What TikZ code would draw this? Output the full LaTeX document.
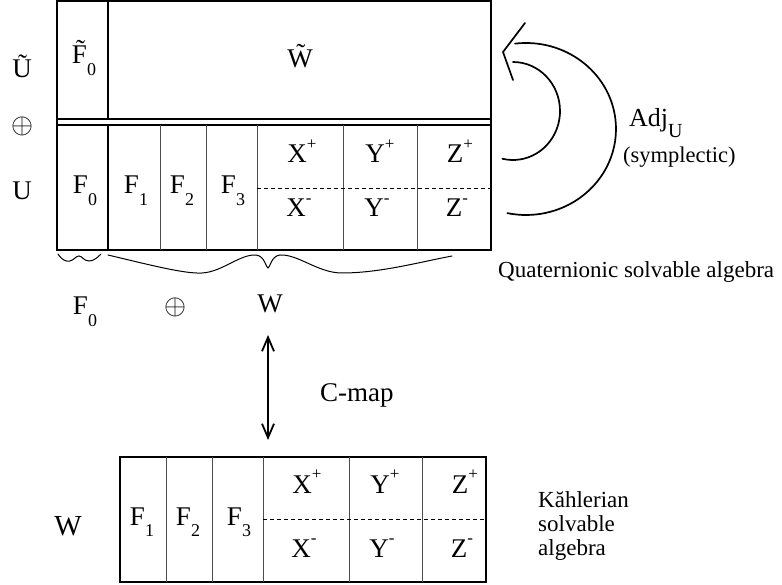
\documentclass[tikz,border=0pt]{standalone}
\usepackage{graphicx}
\usepackage{fontspec}
\setmainfont{Liberation Serif}
\usetikzlibrary{arrows.meta}
\newcommand\labsub[1]{\raisebox{-0.42em}{\fontsize{18}{18}\selectfont #1}}
\newcommand\labsup[1]{\raisebox{0.5em}{\fontsize{17}{17}\selectfont #1}}
\newcommand\bigsum{\resizebox{22pt}{!}{$\oplus$}}
\tikzset{
  boxframe/.style={draw=black, line width=2pt},
  thickdiv/.style={draw=black, line width=2pt},
  thindiv/.style={draw=black!70, line width=1pt},
  sepline/.style={draw=black, line width=1.3pt},
  halfline/.style={draw=black, line width=0.9pt, dash pattern=on 4pt off 3pt},
  bracestroke/.style={draw=black, line width=1pt, line cap=round},
  arcstroke/.style={draw=black, line width=1.7pt, line cap=round, line join=miter},
  maparrow/.style={draw=black, line width=1.8pt,
    {Straight Barb[length=14pt,width=12pt]}-{Straight Barb[length=14pt,width=12pt]}},
  lab/.style={inner sep=0pt, font=\fontsize{27}{32}\selectfont},
  notelab/.style={inner sep=0pt, font=\fontsize{23}{24}\selectfont},
}

\begin{document}
\begin{tikzpicture}[x=1pt,y=-1pt]
  \useasboundingbox (0,0) rectangle (782,585);

  % quaternionic algebra
  \draw[boxframe] (57,1.5) rectangle (491,250);
  \draw[sepline] (57,119) -- (491,119);
  \draw[sepline] (57,125) -- (491,125);
  \draw[thickdiv] (108,1.5) -- (108,119);
  \draw[thickdiv] (108,125) -- (108,250);
  \foreach \xx in {160,206,257,343,417}
    \draw[thindiv] (\xx,125) -- (\xx,250);
  \draw[halfline] (257,188) -- (491,188);

  \node[lab, anchor=base] (Utl) at (22,78) {\~{U}};
  \node[lab] (sumL) at (23,126) {\bigsum};
  \node[lab, anchor=base] (Ul) at (22,200) {U};

  \node[lab, anchor=base] (Ft0) at (84,64) {\~{F}\labsub{0}};
  \node[lab, anchor=base] (Wt) at (300,68) {\~{W}};
  \node[lab, anchor=base] (F0) at (85,194) {F\labsub{0}};
  \node[lab, anchor=base] (F1) at (136,194) {F\labsub{1}};
  \node[lab, anchor=base] (F2) at (182,194) {F\labsub{2}};
  \node[lab, anchor=base] (F3) at (233,194) {F\labsub{3}};
  \node[lab, anchor=base] (Xp) at (302,163) {X\labsup{+}};
  \node[lab, anchor=base] (Yp) at (380,163) {Y\labsup{+}};
  \node[lab, anchor=base] (Zp) at (460,163) {Z\labsup{+}};
  \node[lab, anchor=base] (Xm) at (299,217) {X\labsup{-}};
  \node[lab, anchor=base] (Ym) at (377,217) {Y\labsup{-}};
  \node[lab, anchor=base] (Zm) at (457,217) {Z\labsup{-}};

  % adjoint action arcs
  \draw[arcstroke] (526,129) ++(-97:90 and 86) arc[start angle=-97, end angle=102, x radius=90, y radius=86];
  \draw[arcstroke] (513,111) ++(-90:47 and 49) arc[start angle=-90, end angle=103, x radius=47, y radius=49];
  \draw[arcstroke] (525,23) -- (503,52) -- (513,80);
  \node[lab, anchor=base west, font=\fontsize{26}{30}\selectfont] (adj) at (629,127)
    {Adj\raisebox{-0.42em}{\fontsize{20}{20}\selectfont U}};
  \node[notelab, anchor=base west, font=\fontsize{22.5}{24}\selectfont] (sympl) at (623,163) {(symplectic)};
  \node[notelab, anchor=base west] (quat) at (498,278) {Quaternionic solvable algebra};

  % braces under the box
  \draw[bracestroke] (58,254) .. controls (62,260) and (66,262) .. (70,261)
    .. controls (74,260) and (76,256) .. (79,256)
    .. controls (82,256) and (84,261) .. (89,261)
    .. controls (94,261) and (98,257) .. (101,254);
  \draw[bracestroke] (108,255) .. controls (150,265) and (185,274) .. (202,273)
    .. controls (222,272) and (240,254) .. (256,255)
    .. controls (265,256) and (266,268) .. (268,268)
    .. controls (270,268) and (271,256) .. (280,255)
    .. controls (298,254) and (318,273) .. (342,273)
    .. controls (380,273) and (420,262) .. (452,256);

  \node[lab, anchor=base] (F0b) at (85,315) {F\labsub{0}};
  \node[lab] (sumB) at (175,307) {\bigsum};
  \node[lab, anchor=base] (Wb) at (270,313) {W};

  % c-map
  \coordinate (cTop) at (268,335);
  \coordinate (cBot) at (268,440);
  \draw[maparrow] (cTop) -- (cBot);
  \node[lab, anchor=base west] (cmap) at (320,401) {C-map};

  % kaehlerian algebra
  \draw[boxframe] (120,457) rectangle (486,582);
  \foreach \xx in {166,212,263,349,422}
    \draw[thindiv] (\xx,457) -- (\xx,582);
  \draw[halfline] (263,519) -- (486,519);

  \node[lab, anchor=base, font=\fontsize{29}{32}\selectfont] (Wk) at (68,535) {W};
  \node[lab, anchor=base] (F1k) at (142,525) {F\labsub{1}};
  \node[lab, anchor=base] (F2k) at (188,525) {F\labsub{2}};
  \node[lab, anchor=base] (F3k) at (239,525) {F\labsub{3}};
  \node[lab, anchor=base] (Xpk) at (307,493) {X\labsup{+}};
  \node[lab, anchor=base] (Ypk) at (385,493) {Y\labsup{+}};
  \node[lab, anchor=base] (Zpk) at (465,493) {Z\labsup{+}};
  \node[lab, anchor=base] (Xmk) at (304,557) {X\labsup{-}};
  \node[lab, anchor=base] (Ymk) at (382,557) {Y\labsup{-}};
  \node[lab, anchor=base] (Zmk) at (462,557) {Z\labsup{-}};
  \node[notelab, align=left, anchor=west] (kahler) at (538,526) {Kăhlerian\\solvable\\algebra};
\end{tikzpicture}
\end{document}
